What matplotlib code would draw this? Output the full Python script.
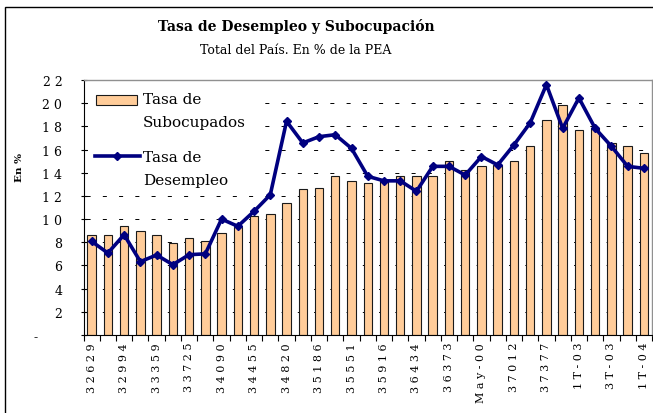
import matplotlib
matplotlib.use('Agg')
import matplotlib.pyplot as plt
from matplotlib.patches import Rectangle
from matplotlib.lines import Line2D
import numpy as np

# labels shown on the x axis (every second period)
tick_labels = ['32629', '32994', '33359', '33725', '34090', '34455', '34820', '35186', '35551',
               '35916', '36434', '36373', 'May-00', '37012', '37377', '1T-03', '3T-03', '1T-04']

# bars: Tasa de Subocupados (%)
subocupados = [8.65, 8.65, 9.38, 8.97, 8.65, 7.9, 8.37, 8.11, 8.83, 9.28, 10.28, 10.4,
               11.42, 12.57, 12.68, 13.69, 13.29, 13.11, 13.26, 13.69, 13.69, 13.69, 14.98, 14.27,
               14.55, 14.67, 14.98, 16.28, 18.58, 19.87, 17.71, 17.9, 16.57, 16.28, 15.7]

# line: Tasa de Desempleo (%)
desempleo = [8.08, 7.07, 8.65, 6.33, 6.9, 6.07, 6.93, 7.0, 10.0, 9.38, 10.67, 12.1,
             18.44, 16.57, 17.11, 17.28, 16.1, 13.69, 13.3, 13.3, 12.4, 14.55, 14.55, 13.8,
             15.4, 14.67, 16.4, 18.3, 21.6, 17.83, 20.45, 17.83, 16.28, 14.55, 14.38]

y_ticks = list(range(0, 23, 2))

bar_color = '#FFCC99'
line_color = '#000080'

plt.rcParams['font.family'] = 'DejaVu Serif'
plt.rcParams['lines.scale_dashes'] = False


def spaced(s):
    # the original renders these labels with wide letter spacing
    return ' '.join(s)


fig = plt.figure(figsize=(6.53, 4.14), dpi=100)
ax = fig.add_axes([83.5 / 653, 78 / 414, (652 - 83.5) / 653, 255 / 414])

x = np.arange(len(subocupados))
ax.bar(x, subocupados, width=0.52, color=bar_color, edgecolor='#1a1a1a', linewidth=0.8, zorder=2)
ax.plot(x, desempleo, color=line_color, lw=2.6, marker='D', markersize=4.5, zorder=3)

ax.set_xlim(-0.5, len(x) - 0.5)
ax.set_ylim(0, 22)

# x axis: labels every two periods, ticks on category boundaries
ax.set_xticks(x[::2], [spaced(t) for t in tick_labels], rotation=90, fontsize=8)
ax.set_xticks(np.arange(-0.5, len(x), 1), minor=True)
ax.tick_params(axis='x', which='major', length=0, pad=5)
ax.tick_params(axis='x', which='minor', direction='out', length=4, width=0.8)

ax.set_yticks(y_ticks, ['-      '] + [spaced(str(v)) for v in y_ticks[1:]], fontsize=9)
ax.tick_params(axis='y', direction='inout', length=4.5, width=0.8, pad=13)

ax.yaxis.grid(True, color='black', lw=0.7, linestyle=(10.2, (2.9, 8.8)))
ax.set_axisbelow(True)

for side in ['left', 'bottom']:
    ax.spines[side].set_linewidth(0.8)
for side in ['top', 'right']:
    ax.spines[side].set_color('#909090')
    ax.spines[side].set_linewidth(1.0)

# legend drawn by hand: Excel puts the key next to the first line of each label
ax.add_patch(Rectangle((0.008, 0.565), 0.308, 0.416, transform=ax.transAxes,
                       facecolor='white', edgecolor='none', zorder=4))
ax.add_patch(Rectangle((0.022, 0.902), 0.072, 0.039, transform=ax.transAxes,
                       facecolor=bar_color, edgecolor='#1a1a1a', lw=0.8, zorder=5))
ax.add_line(Line2D([0.020, 0.099], [0.702, 0.702], transform=ax.transAxes, color=line_color,
                   lw=2.6, zorder=5))
ax.add_line(Line2D([0.0595], [0.702], transform=ax.transAxes, color=line_color, marker='D',
                   markersize=4.5, zorder=5))
legend_lines = [('Tasa de', 0.910), ('Subocupados', 0.820), ('Tasa de', 0.682), ('Desempleo', 0.592)]
for txt, yy in legend_lines:
    ax.text(0.1047, yy, txt, transform=ax.transAxes, fontsize=11, va='baseline', ha='left', zorder=6)

fig.text(296 / 653, 1 - 26 / 414, 'Tasa de Desempleo y Subocupación', ha='center', va='center',
         fontsize=10, fontweight='bold')
fig.text(296 / 653, 1 - 50 / 414, 'Total del País. En % de la PEA', ha='center', va='center',
         fontsize=9)
fig.text(19 / 653, 1 - 168 / 414, 'En %', rotation=90, ha='center', va='center',
         fontsize=7.5, fontweight='bold')

# outer chart frame (cropped at the right and bottom)
fig.add_artist(Rectangle((5 / 653, -0.1), 1.0, 1.1 - 7.5 / 414, transform=fig.transFigure,
                         fill=False, lw=1.0, ec='black'))

fig.savefig('out.png', dpi=100)
